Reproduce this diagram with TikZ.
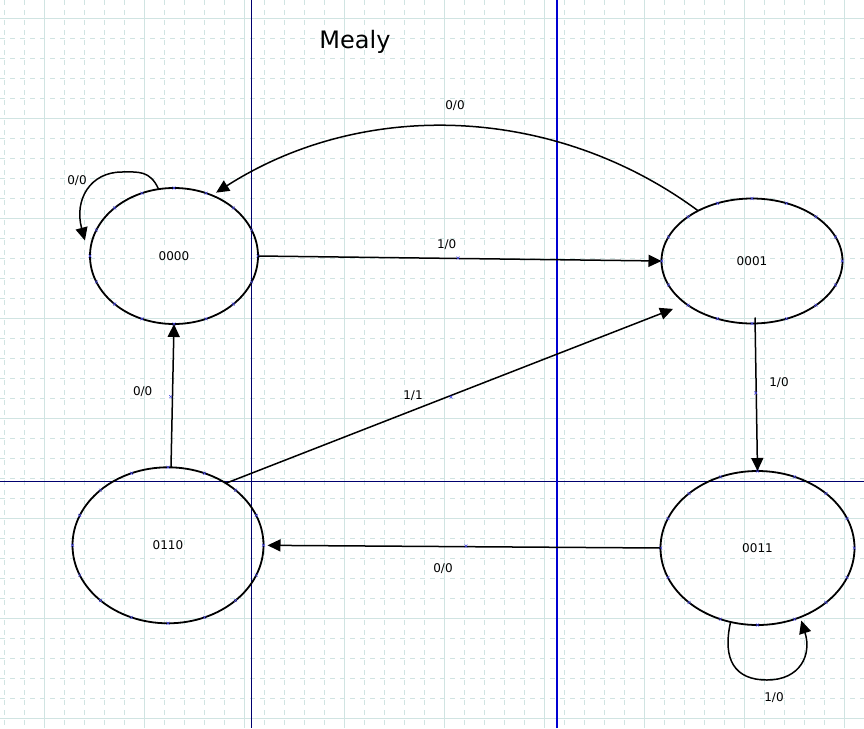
\documentclass[tikz,border=0pt]{standalone}
\usepackage{fontspec}
\setmainfont{DejaVu Sans}
\usetikzlibrary{shapes.geometric,arrows.meta}
\definecolor{gridc}{RGB}{208,228,226}
\definecolor{axisnavy}{RGB}{0,0,110}
\definecolor{axisblue}{RGB}{0,0,210}
\definecolor{markblue}{RGB}{70,70,230}
\begin{document}
\begin{tikzpicture}[x=1pt,y=-1pt,
  state/.style={ellipse,draw=black,line width=1.8pt,inner sep=0pt,outer sep=0pt,font=\fontsize{12}{14}\selectfont},
  trans/.style={draw=black,line width=1.5pt,-{Triangle[length=13pt,width=12pt]}},
  lbl/.style={font=\fontsize{12}{14}\selectfont,inner sep=0pt},
  minorgrid/.style={gridc,line width=0.8pt,dash pattern=on 5pt off 5pt},
  majorgrid/.style={gridc,line width=0.9pt},
  xmk/.style={markblue,line width=0.45pt},
]
\useasboundingbox (0,0) rectangle (864,728);
\fill[white] (0,0) rectangle (864,728);
% grid
\foreach \x in {4,24,...,864} \draw[minorgrid] (\x,0) -- (\x,728);
\foreach \y in {18,38,...,728} \draw[minorgrid] (0,\y) -- (864,\y);
\foreach \x in {44,144,...,844} \draw[majorgrid] (\x,0) -- (\x,728);
\foreach \y in {18,118,...,718} \draw[majorgrid] (0,\y) -- (864,\y);
% axes
\draw[axisnavy,line width=1pt] (251,0) -- (251,728);
\draw[axisnavy,line width=1pt] (0,481) -- (864,481);
\draw[axisblue,line width=1.1pt] (557,0) -- (557,728);
% title
\node[font=\fontsize{24}{28}\selectfont,inner sep=0pt] (title) at (355,42) {Mealy};
% states
\node[state,minimum width=168pt,minimum height=136pt] (s0) at (174,256) {0000};
\node[state,minimum width=181pt,minimum height=125pt] (s1) at (752,261) {0001};
\node[state,minimum width=194pt,minimum height=154pt] (s3) at (757.5,548) {0011};
\node[state,minimum width=191pt,minimum height=156pt] (s6) at (168,545.3) {0110};
% connection marks on ellipses
\foreach \cx/\cy/\rx/\ry in {174/256/84/68, 752/261/90.3/62.5, 757.5/548/96.8/77, 168/545.3/95.5/78}
  \foreach \a in {0,22.5,...,337.5}
    \draw[xmk] ({\cx+\rx*cos(\a)},{\cy-\ry*sin(\a)}) +(-1.5,-1.5) -- +(1.5,1.5) +(-1.5,1.5) -- +(1.5,-1.5);
% transitions
\draw[trans] (s0.east) -- (s1.west);
\draw[trans] ([xshift=3pt,yshift=6pt]s1.south) -- (s3.north);
\draw[trans,shorten >=4pt] (s3.west) -- (s6.east);
\draw[trans] ([xshift=3pt]s6.north) -- (s0.south);
\draw[trans,shorten >=14pt] (s6.47) -- (s1.213.5);
\draw[trans,shorten >=5pt] (s1.137) .. controls (555,105) and (364,98) .. (s0.58);
\draw[trans] (s0.103) .. controls (150,170) and (138,172) .. (122,172) .. controls (90,172) and (74,200) .. ([xshift=-7pt,yshift=1pt]s0.170);
\draw[trans] (s3.250) .. controls (722,660) and (735,680) .. (767,680) .. controls (800,680) and (812,655) .. ([xshift=2pt,yshift=-3pt]s3.301.7);
% marks on edges
\foreach \px/\py in {458/258, 755.7/393, 170.7/396.7, 466/546, 451/397}
  \draw[xmk] (\px,\py) +(-1.5,-1.5) -- +(1.5,1.5) +(-1.5,1.5) -- +(1.5,-1.5);
% labels
\node[lbl] (l1) at (455,105.7) {0/0};
\node[lbl] (l2) at (446.7,245) {1/0};
\node[lbl] (l3) at (779,382.7) {1/0};
\node[lbl] (l4) at (142.7,391.7) {0/0};
\node[lbl] (l5) at (413,396) {1/1};
\node[lbl] (l6) at (443,569) {0/0};
\node[lbl] (l7) at (774,697.7) {1/0};
\node[lbl] (l8) at (77,181) {0/0};
\end{tikzpicture}
\end{document}
